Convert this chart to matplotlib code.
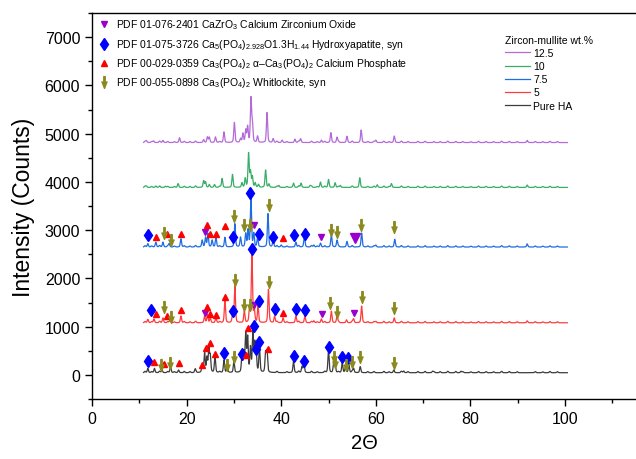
import numpy as np
import matplotlib
matplotlib.use("Agg")
import matplotlib.pyplot as plt
from matplotlib.path import Path

plt.rcParams['font.family'] = ['Liberation Sans', 'DejaVu Sans']
plt.rcParams['mathtext.fontset'] = 'custom'
plt.rcParams['mathtext.rm'] = 'Liberation Sans'
plt.rcParams['mathtext.it'] = 'Liberation Sans:italic'

# --- dane: pozycje pikow (2Theta) i wysokosci nad tlem (counts) ---
series_names = ["12.5", "10", "7.5", "5", "Pure HA"]
series_colors = ["#b56ad9", "#38ad68", "#1f6de3", "#ff3b3b", "#3c3c3c"]
baselines = [4815, 3885, 2650, 1080, 45]

p125_pos = [11.5, 13.0, 15.0, 18.5, 23.6, 24.4, 24.8, 26.1, 27.9, 30.1, 31.4, 31.9, 32.5, 32.9,
            33.6, 33.9, 35.0, 37.0, 38.3, 40.2, 42.9, 44.1, 48.5, 50.5, 51.8, 53.9, 56.9, 60.0, 63.9, 92.0]
p125_h = [40, 35, 45, 100, 60, 115, 110, 115, 220, 415, 80, 185, 255, 325,
          900, 390, 130, 620, 80, 50, 70, 80, 50, 205, 110, 130, 260, 50, 135, 45]

p10_pos = [11.5, 13.5, 15.5, 18.2, 23.6, 24.0, 24.8, 25.9, 27.5, 29.7, 31.7, 32.4, 33.1, 33.5,
           33.9, 34.5, 35.2, 36.7, 37.4, 39.5, 42.6, 44.2, 46.1, 48.3, 50.0, 51.4, 52.5, 56.6, 60.3, 63.3, 92.0]
p10_h = [30, 30, 25, 80, 140, 115, 60, 60, 185, 270, 95, 185, 700, 320,
         220, 90, 60, 360, 70, 40, 90, 90, 40, 110, 165, 95, 40, 200, 55, 80, 50]

p75_pos = [11.8, 13.5, 15.0, 16.3, 18.8, 23.3, 24.0, 24.5, 25.4, 26.2, 28.1, 30.2, 31.4, 32.5,
           33.0, 33.6, 34.2, 35.0, 37.2, 38.3, 40.0, 43.1, 44.9, 46.9, 48.3, 50.6, 51.8, 53.9, 57.0, 60.0, 64.0, 92.0]
p75_h = [70, 100, 100, 70, 170, 140, 200, 275, 140, 200, 200, 480, 200, 275,
         345, 1000, 275, 200, 690, 140, 40, 100, 230, 40, 80, 250, 140, 115, 290, 40, 160, 65]

p5_pos = [11.8, 13.1, 15.0, 16.5, 18.8, 23.8, 24.4, 25.0, 26.2, 28.1, 29.7, 30.2, 32.2, 33.3,
          33.8, 34.3, 35.1, 37.3, 38.6, 40.4, 43.1, 45.0, 46.9, 48.5, 50.6, 51.8, 53.8, 55.3, 57.0, 60.0, 63.9, 92.0]
p5_h = [70, 80, 100, 70, 140, 140, 170, 100, 100, 480, 140, 760, 240, 275,
        1450, 275, 345, 690, 140, 100, 140, 140, 40, 80, 240, 140, 60, 80, 345, 30, 100, 40]

pha_pos = [11.8, 13.2, 14.8, 16.6, 18.3, 21.8, 23.3, 23.8, 24.3, 24.7, 25.0, 26.0, 27.9, 28.6, 30.0,
           31.7, 32.1, 32.5, 32.9, 33.5, 34.0, 34.4, 34.7, 35.4, 36.7, 37.0, 42.6, 44.4, 44.8, 50.0,
           51.1, 51.4, 52.9, 53.6, 54.3, 55.3, 56.7, 63.8, 65.9, 72.0, 78.0]
pha_h = [90, 90, 55, 125, 55, 55, 160, 400, 300, 470, 330, 330, 260, 125, 230,
         330, 400, 780, 710, 500, 810, 570, 400, 500, 400, 430, 230, 125, 190, 470,
         190, 160, 190, 125, 160, 90, 125, 55, 35, 30, 30]

# drobne zaklocenia tla
ripple_pos = [11.2, 12.6, 14.3, 16.0, 17.4, 19.5, 20.7, 21.9, 27.0, 39.1, 41.2, 43.7, 46.4, 47.6,
              49.2, 52.1, 55.0, 58.3, 59.6, 61.7, 62.8, 65.4, 66.8, 68.9, 70.4, 72.3, 73.6, 75.2,
              76.9, 78.4, 80.1, 81.7, 83.3, 84.9, 86.6, 88.2, 89.9, 93.7, 95.3, 96.8, 98.4]
ripple_h = [25, 20, 30, 22, 18, 25, 20, 30, 22, 25, 20, 30, 28, 18,
            25, 20, 30, 22, 25, 28, 20, 30, 22, 25, 28, 20, 22, 30,
            25, 20, 18, 25, 22, 20, 28, 25, 20, 22, 18, 25, 20]

# --- markery faz (2Theta, counts) ---
zro_x = [23.9, 34.2, 48.6, 55.3, 23.9, 34.2, 48.5]
zro_y = [1290, 1448, 1262, 1290, 2966, 3103, 2862]
zro_big_x = [55.7]
zro_big_y = [2828]

hap_x = [11.9, 27.9, 31.7, 34.2, 34.6, 35.4, 42.6, 44.8, 50.0, 52.9, 54.1,
         12.4, 29.8, 33.8, 35.2, 38.6, 43.1, 45.0,
         11.9, 29.8, 33.5, 35.3, 38.2, 42.8, 45.1]
hap_y = [297, 462, 434, 1021, 545, 690, 400, 297, 586, 366, 345,
         1345, 1331, 2600, 1538, 1372, 1366, 1352,
         2897, 2862, 3770, 2917, 2848, 2897, 2910]

tcp_x = [13.2, 15.2, 18.4, 23.3, 24.0, 24.9, 26.0, 32.6, 33.0, 37.3,
         13.6, 15.9, 18.8, 24.3, 25.0, 26.3, 28.1, 40.4,
         13.6, 15.9, 18.8, 24.3, 25.0, 26.3, 28.1, 40.4]
tcp_y = [276, 228, 241, 207, 552, 655, 434, 414, 966, 538,
         1262, 1221, 1345, 1414, 1255, 1234, 1621, 1290,
         2862, 2910, 2910, 3103, 2917, 2910, 3083, 2828]

wht_x = [14.5, 16.4, 28.6, 30.0, 51.1, 51.4, 53.6, 55.0, 56.7, 63.8,
         15.2, 16.7, 30.2, 32.2, 33.3, 37.4, 50.4, 51.8, 57.0, 63.9,
         15.3, 16.6, 30.1, 32.2, 33.3, 37.4, 50.5, 51.8, 56.9, 63.9]
wht_y = [207, 255, 207, 379, 379, 276, 207, 276, 379, 241,
         1414, 1207, 1966, 1448, 1448, 1931, 1483, 1310, 1607, 1379,
         2931, 2793, 3290, 3103, 3103, 3517, 3000, 2966, 3103, 3069]

legend_labels = [
    "PDF 01-076-2401 CaZrO$_3$ Calcium Zirconium Oxide",
    "PDF 01-075-3726 Ca$_5$(PO$_4$)$_{2.928}$O1.3H$_{1.44}$ Hydroxyapatite, syn",
    "PDF 00-029-0359 Ca$_3$(PO$_4$)$_2$ \u03b1\u2013Ca$_3$(PO$_4$)$_2$ Calcium Phosphate",
    "PDF 00-055-0898 Ca$_3$(PO$_4$)$_2$ Whitlockite, syn",
]


def profile(x, pos, h, base, w=0.3):
    y = np.full_like(x, float(base))
    for p, a in zip(pos, h):
        g = np.exp(-4 * np.log(2) * ((x - p) / w) ** 2)
        l = 1.0 / (1 + ((x - p) / (w / 2)) ** 2)
        y += a * (0.6 * g + 0.4 * l)
    for p, a in zip(ripple_pos, ripple_h):
        y += a * np.exp(-4 * np.log(2) * ((x - p) / 0.35) ** 2)
    return y


x = np.arange(10.9, 100.5, 0.02)
all_pos = [p125_pos, p10_pos, p75_pos, p5_pos, pha_pos]
all_h = [p125_h, p10_h, p75_h, p5_h, pha_h]

fig = plt.figure(figsize=(6.36, 4.6), dpi=100)
ax = fig.add_axes([92 / 636, 60 / 460, 544 / 636, 386 / 460])

lines = []
for pos, h, base, col, name in zip(all_pos, all_h, baselines, series_colors, series_names):
    ln, = ax.plot(x, profile(x, pos, h, base), color=col, lw=0.9, label=name)
    lines.append(ln)

# strzalka jako marker
arrow_verts = [(-0.12, 1.0), (0.12, 1.0), (0.12, -0.15), (0.42, 0.1), (0.0, -1.0),
               (-0.42, 0.1), (-0.12, -0.15), (-0.12, 1.0)]
arrow = Path(arrow_verts, [Path.MOVETO] + [Path.LINETO] * 6 + [Path.CLOSEPOLY])

zro_col, hap_col, tcp_col, wht_col = "#9a00cc", "#0000ff", "#ff0000", "#8a8a1e"
ax.plot(zro_x, zro_y, ls='none', marker='v', ms=5, color=zro_col)
ax.plot(zro_big_x, zro_big_y, ls='none', marker='v', ms=7, color=zro_col)
ax.plot(hap_x, hap_y, ls='none', marker='d', ms=6, color=hap_col)
ax.plot(tcp_x, tcp_y, ls='none', marker='^', ms=5, color=tcp_col)
ax.plot(wht_x, wht_y, ls='none', marker=arrow, ms=8.5, color=wht_col)

ax.set_xlim(0, 115)
ax.set_ylim(-500, 7500)
ax.set_xticks([0, 20, 40, 60, 80, 100])
ax.set_xticks(np.arange(10, 115, 20), minor=True)
ax.set_yticks(np.arange(0, 7001, 1000))
ax.set_yticks(np.arange(-500, 7501, 1000), minor=True)
ax.tick_params(which='major', direction='out', length=5, width=1, labelsize=11.5, top=False, right=False)
ax.tick_params(which='minor', direction='out', length=3, width=1, top=False, right=False)
ax.spines['right'].set_visible(False)
for s in ['left', 'bottom', 'top']:
    ax.spines[s].set_linewidth(1)

ax.set_xlabel("2\u0398", fontsize=14.5, labelpad=5)
ax.set_ylabel("Intensity (Counts)", fontsize=16.5, labelpad=7)

# legenda faz (recznie)
marker_specs = [('v', 5, zro_col), ('d', 6, hap_col), ('^', 5, tcp_col), (arrow, 8.5, wht_col)]
row_y = [25, 45, 64, 83]
for (m, ms, c), yy, lab in zip(marker_specs, row_y, legend_labels):
    ya = (400 - yy) / 386
    ax.plot([12 / 544], [ya], transform=ax.transAxes, ls='none', marker=m, ms=ms, color=c, clip_on=False)
    ax.text(24 / 544, ya, lab, transform=ax.transAxes, fontsize=7.5, va='center', ha='left')

leg = ax.legend(handles=lines, title="Zircon-mullite wt.%", loc='upper left',
                bbox_to_anchor=((505 - 92) / 544, (400 - 36) / 386), frameon=False,
                fontsize=7.5, title_fontsize=7.5, handlelength=2.4, handletextpad=0.3,
                labelspacing=0.3, borderpad=0, borderaxespad=0, alignment='left')

fig.savefig("out.png", dpi=100)
